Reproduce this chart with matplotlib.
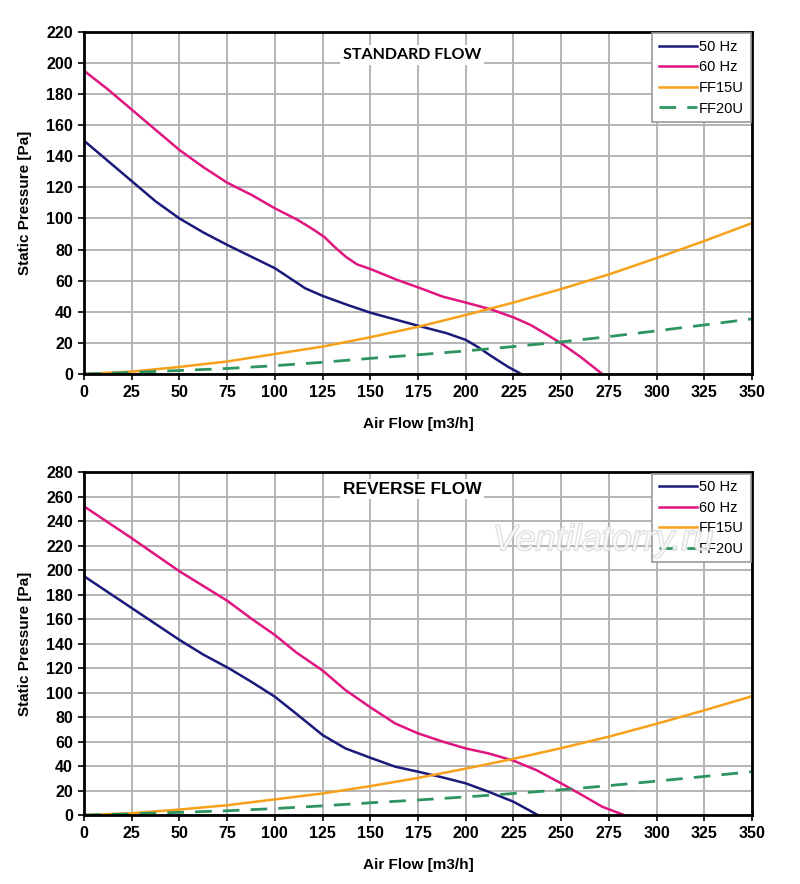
import matplotlib
matplotlib.use("Agg")
import matplotlib.pyplot as plt
import matplotlib.patheffects as pe

plt.rcParams['font.family'] = ['Liberation Sans', 'DejaVu Sans']

# standard flow curves
std_50_x = [0, 12.5, 25, 37.5, 50, 62.5, 75, 100, 108, 116, 125, 138, 150, 164, 175, 190, 200, 206, 213, 222, 229]
std_50_y = [150, 137, 124, 111, 100, 91, 83, 68, 61.5, 55, 50.2, 44.4, 39.4, 34.7, 31, 26.2, 21.9, 17.6, 11.8, 4.7, 0]
std_60_x = [0, 12.5, 25, 37.5, 50, 62.5, 75, 88, 100, 112, 120, 126, 131, 137, 143, 150, 164, 175, 188, 200,
            213, 225, 234, 242, 250, 260, 271.5]
std_60_y = [195, 183, 170, 157, 144, 133, 123, 115, 106.5, 99, 93, 88, 82, 75.5, 70.5, 67.5, 60.5, 55.7, 49.7, 45.9,
            41.6, 36.4, 31.5, 25.7, 19.7, 11.1, 0]

# reverse flow curves
rev_50_x = [0, 12.5, 25, 37.5, 50, 62.5, 76, 88, 100, 111, 125, 137, 150, 163, 175, 188, 200, 212, 225, 233, 237.8]
rev_50_y = [195, 182, 169, 156, 143, 131, 119.7, 108.5, 96.6, 83, 65.3, 54.4, 46.8, 39.5, 35.4, 30.7, 25.9, 19, 10.9, 4.1, 0]
rev_60_x = [0, 12.5, 25, 37.5, 50, 62.5, 75, 88, 100, 111, 125, 137, 150, 163, 175, 188, 200, 212, 225,
            237, 250, 261, 271.5, 283]
rev_60_y = [252, 239, 226, 212.5, 199, 187, 175, 160, 147, 133, 118, 102, 88, 74.8, 66.7, 59.9, 54.4, 50.3, 44.4,
            36.7, 25.9, 16.3, 6.8, 0]

# system curves (same on both charts)
sys_x = [0, 25, 50, 75, 100, 125, 150, 175, 200, 225, 250, 275, 300, 325, 350]
ff15u_y = [0, 1.5, 4.5, 8, 12.8, 17.6, 23.6, 30.3, 37.9, 45.9, 54.6, 64, 74.5, 85.5, 97]
ff20u_y = [0, 1, 2.2, 3.5, 5.3, 7.5, 10, 12.3, 14.8, 17.6, 20.6, 24, 27.7, 31.5, 35.4]

c50 = '#1a1a7a'
c60 = '#e0157f'
cff15 = '#f7a11a'
cff20 = '#2e9460'

fig = plt.figure(figsize=(8, 8.84), dpi=100)
ax1 = fig.add_axes([0.105, 0.577, 0.835, 0.387])
ax2 = fig.add_axes([0.105, 0.078, 0.835, 0.388])


def style(ax, ymax, title, tx, ty, tfont, tsize):
    ax.set_xlim(0, 350)
    ax.set_ylim(0, ymax)
    ax.set_xticks(range(0, 351, 25))
    ax.set_yticks(range(0, ymax + 1, 20))
    ax.grid(True, color='#b4b4b4', linewidth=1.4)
    ax.set_axisbelow(True)
    for s in ax.spines.values():
        s.set_linewidth(2)
        s.set_color('black')
    ax.tick_params(direction='out', length=4, width=1.2, labelsize=11.5, pad=4)
    for lab in ax.get_xticklabels() + ax.get_yticklabels():
        lab.set_fontweight('bold')
    ax.set_xlabel('Air Flow [m3/h]', fontsize=11, fontweight='bold', labelpad=12)
    ax.set_ylabel('Static Pressure [Pa]', fontsize=11, fontweight='bold', labelpad=10)
    ax.text(tx, ty, title, fontsize=tsize, fontweight='bold', ha='center', va='center',
            family=tfont, bbox=dict(facecolor='white', edgecolor='none', pad=2))
    leg = ax.legend(loc='upper right', fontsize=10.5, handlelength=2.6, handletextpad=0.15,
                    borderaxespad=0.1, labelspacing=0.45, fancybox=False, framealpha=1,
                    borderpad=0.45)
    leg.get_frame().set_edgecolor('#9a9a9a')
    leg.get_frame().set_linewidth(1.2)
    return leg


for ax, x50, y50, x60, y60 in [(ax1, std_50_x, std_50_y, std_60_x, std_60_y),
                               (ax2, rev_50_x, rev_50_y, rev_60_x, rev_60_y)]:
    ax.plot(x50, y50, color=c50, lw=1.8, label='50 Hz')
    ax.plot(x60, y60, color=c60, lw=1.8, label='60 Hz')
    ax.plot(sys_x, ff15u_y, color=cff15, lw=1.8, label='FF15U')
    ax.plot(sys_x, ff20u_y, color=cff20, lw=2, ls=(0, (6, 4)), label='FF20U')

style(ax1, 220, 'STANDARD FLOW', 172, 205, ['Lato', 'DejaVu Sans'], 11.5)
leg2 = style(ax2, 280, 'REVERSE FLOW', 172, 266, ['Liberation Sans', 'DejaVu Sans'], 12.5)

# faint outlined watermark, lying over the legend as in the source image
ax2.text(272, 224, 'Ventilatorry.ru', fontsize=26, style='italic', color='white',
         ha='center', va='center', alpha=0.6, zorder=30,
         path_effects=[pe.withStroke(linewidth=1.3, foreground='#c4c4c4')])

fig.savefig('out.png', dpi=100, facecolor='white')
